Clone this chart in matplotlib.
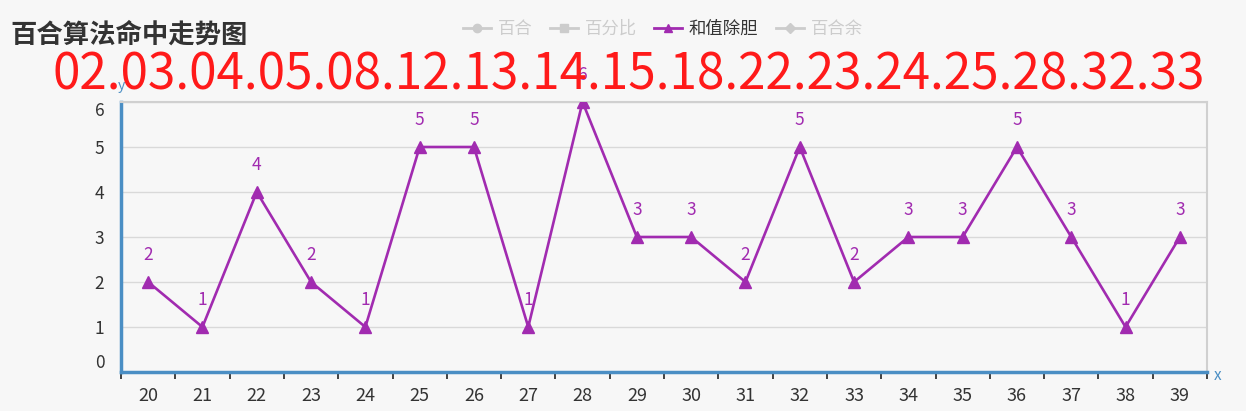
import matplotlib.pyplot as plt
from matplotlib.lines import Line2D

plt.rcParams['font.family'] = ['Noto Sans CJK SC', 'DejaVu Sans']

periods = ['20', '21', '22', '23', '24', '25', '26', '27', '28', '29',
           '30', '31', '32', '33', '34', '35', '36', '37', '38', '39']
values = [2, 1, 4, 2, 1, 5, 5, 1, 6, 3, 3, 2, 5, 2, 3, 3, 5, 3, 1, 3]
legend_names = ['百合', '百分比', '和值除胆', '百合余']
numbers = '02.03.04.05.08.12.13.14.15.18.22.23.24.25.28.32.33'
title = '百合算法命中走势图'

W, H = 1246, 411
bg = '#f7f7f7'
purple = '#a12bb0'
blue = '#4a8ec4'
grey = '#cccccc'

fig = plt.figure(figsize=(W / 100, H / 100), dpi=100, facecolor=bg)
ax = fig.add_axes([121 / W, (H - 372) / H, (1207 - 121) / W, (372 - 102) / H])
ax.set_facecolor(bg)

xs = list(range(len(values)))
ax.plot(xs, values, color=purple, lw=1.9, marker='^', ms=8, zorder=3)
for x, v in zip(xs, values):
    ax.annotate(str(v), (x, v), xytext=(0, 19.5), textcoords='offset points',
                ha='center', va='center', color=purple, fontsize=12.5, zorder=2)

ax.set_xlim(-0.5, len(values) - 0.5)
ax.set_ylim(0, 6)

# 网格
for y in range(1, 7):
    ax.axhline(y, color='#d9d9d9', lw=1, zorder=1)

for s in ['top', 'right']:
    ax.spines[s].set_color('#d0d0d0')
    ax.spines[s].set_linewidth(1.5)
for s in ['left', 'bottom']:
    ax.spines[s].set_color(blue)
    ax.spines[s].set_linewidth(2.5)

# x轴刻度
ax.set_xticks([i - 0.5 for i in range(len(values) + 1)])
ax.set_xticklabels([])
ax.tick_params(axis='x', which='major', length=5, width=1.3, color='#333333', direction='out')
ax.set_xticks(xs, minor=True)
ax.set_xticklabels(periods, minor=True)
ax.tick_params(axis='x', which='minor', length=0, pad=11, labelsize=13, labelcolor='#333333')

# y轴刻度
ax.set_yticks(range(0, 7))
ax.set_yticklabels([str(i) for i in range(0, 7)])
ax.tick_params(axis='y', length=0, pad=12, labelsize=12.5, labelcolor='#333333')
for lab in ax.get_yticklabels():
    if lab.get_text() == '6':
        lab.set_va('top')
    elif lab.get_text() == '0':
        lab.set_va('bottom')

fig.text(121 / W, 1 - 86 / H, 'y', color=blue, fontsize=10, ha='center', va='center')
fig.text(1218 / W, 1 - 375 / H, 'x', color=blue, fontsize=11, ha='center', va='center')

# 标题和号码
fig.text(10 / W, 1 - 35 / H, title, fontsize=19, fontweight='bold', color='#333333',
         ha='left', va='center')
fig.text(629 / W, 1 - 75 / H, numbers, fontsize=35.6, color='#ff1a1a',
         ha='center', va='center', zorder=10)

# 图例
markers = ['o', 's', '^', 'D']
colors = [grey, grey, purple, grey]
handles = [Line2D([0], [0], color=c, marker=m, lw=2, ms=6 if m != 'D' else 5)
           for m, c in zip(markers, colors)]
leg = fig.legend(handles, legend_names, loc='center', ncol=4, frameon=False,
                 bbox_to_anchor=(663 / W, 1 - 29 / H), fontsize=12.5,
                 handlelength=1.6, handletextpad=0.4, columnspacing=1.0)
for t, c in zip(leg.get_texts(), ['#cccccc', '#cccccc', '#333333', '#cccccc']):
    t.set_color(c)

fig.savefig('out.png', dpi=100, facecolor=bg)
